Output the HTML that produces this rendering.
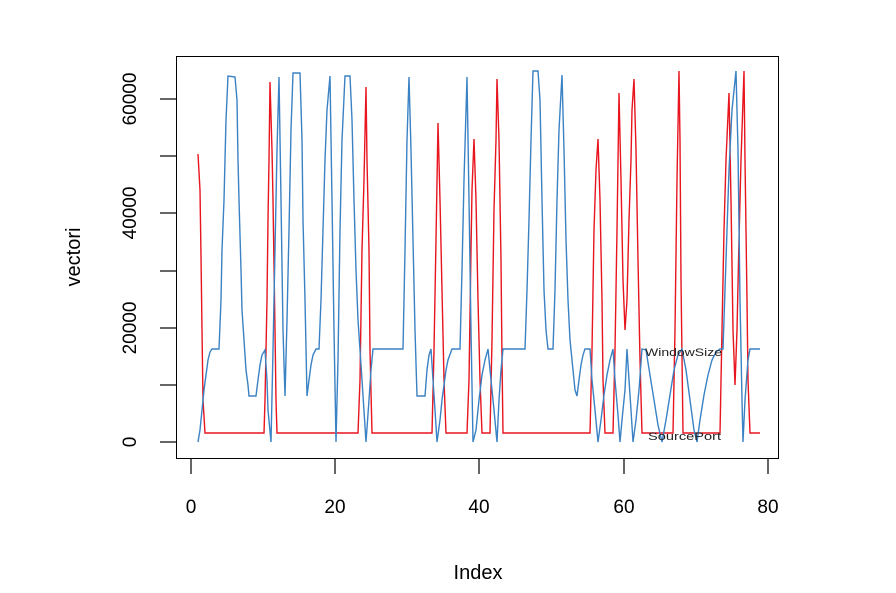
<!DOCTYPE html>
<html><head><meta charset="utf-8"><style>body{margin:0;background:#fff}svg{display:block}</style></head>
<body>
<svg width="896" height="593" viewBox="0 0 896 593" xmlns="http://www.w3.org/2000/svg" font-family="Liberation Sans, sans-serif">
<rect width="896" height="593" fill="#fff"/>
<polyline fill="none" stroke="#e8141e" stroke-width="1.4" points="198,154 200,190 201,256 202,330 203,400 205,433 264,433 265,400 267,300 268,220 269,160 270,82 272,150 273,200 275,330 276,400 277,433 358,433 360,380 362,250 364,180 366,87 367,160 369,250 370,350 372,433 432,433 434,350 436,240 438,123 440,200 442,290 444,380 446,433 467,433 469,380 471,250 472,190 474,139 476,200 478,300 480,380 482,433 490,433 492,340 494,210 496,140 497,79 499,140 501,260 502,360 503,433 590,433 592,350 594,230 596,170 598,139 600,200 602,300 603,380 605,433 613,433 615,350 617,230 619,93 621,180 623,280 625,330 627,300 629,220 631,160 632,110 634,79 636,150 638,260 640,360 642,433 673,433 675,330 677,180 679,71 680,140 681,280 683,433 720,433 722,330 724,230 726,160 729,93 731,200 733,330 735,385 737,330 739,240 741,160 744,71 745,160 747,300 748,380 750,433 760,433"/>
<polyline fill="none" stroke="#3a82c4" stroke-width="1.4" points="198,442 200,430 202,410 204,390 206,375 208,360 210,352 212,349 219,349 221,300 222,250 224,200 225,160 226,120 228,76 235,77 237,100 238,160 239,200 241,270 242,310 244,340 246,370 248,385 249,396 256,396 258,380 260,365 262,355 265,350 267,380 268,410 271,442 273,350 275,250 277,150 279,77 281,200 283,330 285,396 287,320 289,230 291,130 293,73 300,73 302,140 303,220 305,300 307,396 309,380 311,365 313,355 316,349 319,349 321,300 323,230 325,160 327,110 330,76 332,200 334,330 336,442 338,360 340,230 342,140 345,76 350,76 352,120 354,200 356,270 358,320 362,380 366,442 369,400 371,370 373,349 403,349 405,250 407,140 409,77 411,150 413,240 415,330 417,396 425,396 427,370 429,355 431,349 433,380 435,410 437,442 440,420 442,400 444,385 446,370 448,360 452,349 460,349 462,270 464,180 467,77 469,200 471,330 473,442 476,430 479,400 482,375 485,360 488,349 491,380 494,410 497,442 499,400 501,370 503,349 525,349 527,290 529,220 531,140 533,71 538,71 540,100 542,200 544,290 546,330 548,349 553,349 555,290 557,200 559,130 562,75 564,150 566,240 568,300 570,340 573,370 575,390 577,396 579,380 581,365 583,355 585,349 590,349 592,380 595,410 598,442 601,420 604,395 607,375 610,360 613,349 615,380 618,415 620,442 622,420 625,390 627,349 629,380 631,410 633,442 636,420 639,390 642,349 646,350 650,375 654,400 658,425 662,442 666,420 670,395 674,370 678,355 682,349 686,370 690,400 694,430 697,442 700,420 704,395 708,375 712,360 716,352 720,349 723,349 726,260 729,170 732,110 736,71 738,150 740,300 742,400 743,442 745,400 748,360 750,349 760,349"/>
<text x="645" y="356" font-size="11" fill="#222" textLength="77" lengthAdjust="spacingAndGlyphs">WindowSize</text>
<text x="648" y="440" font-size="11" fill="#222" textLength="73" lengthAdjust="spacingAndGlyphs">SourcePort</text>
<rect x="176.5" y="56.5" width="602" height="402" fill="none" stroke="#000" stroke-width="1"/>
<g stroke="#000" stroke-width="1.2">
<line x1="160" y1="442" x2="176" y2="442"/>
<line x1="160" y1="385" x2="176" y2="385"/>
<line x1="160" y1="328" x2="176" y2="328"/>
<line x1="160" y1="271" x2="176" y2="271"/>
<line x1="160" y1="213" x2="176" y2="213"/>
<line x1="160" y1="156" x2="176" y2="156"/>
<line x1="160" y1="99" x2="176" y2="99"/>
<line x1="191" y1="459" x2="191" y2="474"/>
<line x1="335" y1="459" x2="335" y2="474"/>
<line x1="479" y1="459" x2="479" y2="474"/>
<line x1="624" y1="459" x2="624" y2="474"/>
<line x1="768" y1="459" x2="768" y2="474"/>
</g>
<g font-size="19" fill="#000" text-anchor="middle">
<text transform="translate(136,442) rotate(-90)">0</text>
<text transform="translate(136,328) rotate(-90)">20000</text>
<text transform="translate(136,213) rotate(-90)">40000</text>
<text transform="translate(136,99) rotate(-90)">60000</text>
</g>
<g font-size="19" fill="#000" text-anchor="middle">
<text x="191" y="513">0</text>
<text x="335" y="513">20</text>
<text x="479" y="513">40</text>
<text x="624" y="513">60</text>
<text x="768" y="513">80</text>
</g>
<text x="478" y="579" font-size="20" text-anchor="middle">Index</text>
<text transform="translate(80,257) rotate(-90)" font-size="20" text-anchor="middle">vectori</text>
</svg>
</body></html>
